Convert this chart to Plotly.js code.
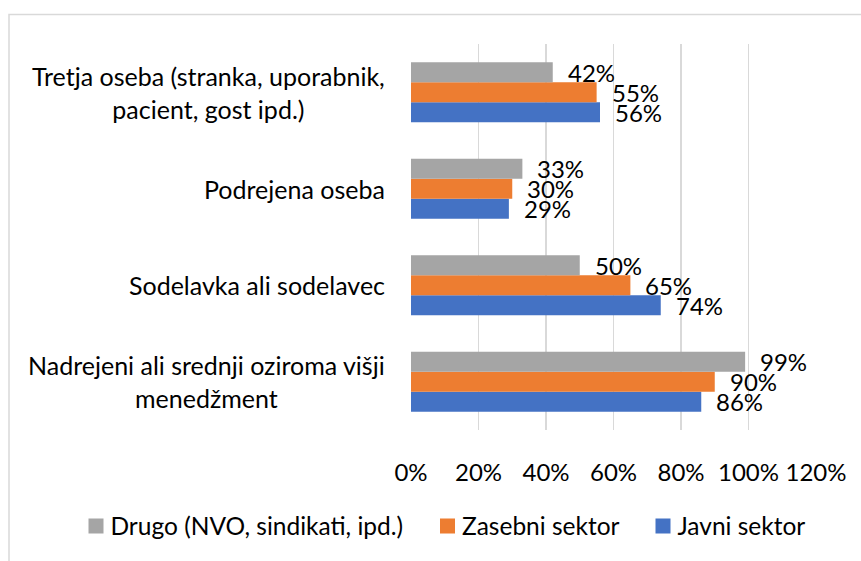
<!DOCTYPE html>
<html>
<head>
<meta charset="utf-8">
<script src="https://cdn.plot.ly/plotly-3.0.1.min.js"></script>
<style>
  html, body { margin: 0; padding: 0; background: #ffffff; }
  #chart { width: 861px; height: 561px; }
</style>
</head>
<body>
<div id="chart"></div>
<script>
// Categories, bottom to top as they appear on the chart
const categories = [
  "Nadrejeni ali srednji oziroma višji<br>menedžment",
  "Sodelavka ali sodelavec",
  "Podrejena oseba",
  "Tretja oseba (stranka, uporabnik,<br>pacient, gost ipd.)"
];
const seriesNames = ["Javni sektor", "Zasebni sektor", "Drugo (NVO, sindikati, ipd.)"];
const javni   = [86, 74, 29, 56];
const zasebni = [90, 65, 30, 55];
const drugo   = [99, 50, 33, 42];
const xTicks = [0, 20, 40, 60, 80, 100, 120];

const colors = ["#4472C4", "#ED7D31", "#A5A5A5"];
const seriesValues = [javni, zasebni, drugo];

const FONT = "Lato, 'Open Sans', sans-serif";
const FS = 24;
const TXT = "#000000";

const W = 861, H = 561;
const margin = { l: 411, r: 45, t: 44, b: 123 };
const plotW = W - margin.l - margin.r;
const plotH = H - margin.t - margin.b;
const px2x = p => (p - margin.l) / plotW;
const py2y = p => 1 - (p - margin.t) / plotH;

const bargap = 0.38;
const nS = seriesNames.length;
const barW = (1 - bargap) / nS;

// one legend per series so the entries can be spaced like the reference
const legendIds = ["legend3", "legend2", "legend"];
const legendLeft = [637.5, 422, 70.5];

const traces = seriesNames.map((name, i) => ({
  type: "bar",
  orientation: "h",
  name: name,
  x: seriesValues[i],
  y: categories,
  legend: legendIds[i],
  marker: { color: colors[i], line: { width: 0 } },
  hoverinfo: "skip"
}));

const annotations = [];
// Data labels
seriesValues.forEach((vals, i) => {
  const off = -(1 - bargap) / 2 + (i + 0.5) * barW;
  vals.forEach((v, c) => {
    annotations.push({
      x: v, y: c + off, xref: "x", yref: "y",
      text: v + "%", showarrow: false,
      xanchor: "left", yanchor: "middle", xshift: 13,
      font: { family: FONT, size: FS, color: TXT }
    });
  });
});
// Category labels (centered multi-line)
categories.forEach((cat, c) => {
  annotations.push({
    x: 0, y: c, xref: "paper", yref: "y",
    text: cat, showarrow: false,
    xanchor: "right", yanchor: "middle", align: "center", xshift: -24,
    font: { family: FONT, size: 25, color: TXT }
  });
});

const legendBase = (left) => ({
  orientation: "h",
  x: px2x(left), xanchor: "left",
  y: py2y(536), yanchor: "middle",
  font: { family: FONT, size: 24.5, color: TXT },
  itemwidth: 30,
  bgcolor: "rgba(0,0,0,0)"
});

const layout = {
  width: W, height: H,
  margin: margin,
  paper_bgcolor: "#ffffff",
  plot_bgcolor: "#ffffff",
  barmode: "group",
  bargap: bargap,
  bargroupgap: 0,
  font: { family: FONT, size: FS, color: TXT },
  showlegend: true,
  legend: legendBase(legendLeft[2]),
  legend2: legendBase(legendLeft[1]),
  legend3: legendBase(legendLeft[0]),
  xaxis: {
    range: [0, 120],
    tickvals: xTicks,
    ticktext: xTicks.map(t => t + "%"),
    showgrid: true,
    gridcolor: "#D9D9D9",
    gridwidth: 1.5,
    zeroline: false,
    showline: false,
    ticks: "",
    ticklabelstandoff: 26,
    tickfont: { family: FONT, size: FS, color: TXT },
    fixedrange: true
  },
  yaxis: {
    type: "category",
    categoryorder: "array",
    categoryarray: categories,
    range: [-0.5, categories.length - 0.5],
    showticklabels: false,
    showgrid: false,
    zeroline: false,
    showline: false,
    ticks: "",
    fixedrange: true
  },
  annotations: annotations,
  shapes: [{
    type: "rect", xref: "paper", yref: "paper", layer: "below",
    x0: px2x(9), x1: px2x(900), y0: py2y(14), y1: py2y(600),
    line: { color: "#D9D9D9", width: 1.5 }, fillcolor: "rgba(0,0,0,0)"
  }]
};

Plotly.newPlot("chart", traces, layout, { displayModeBar: false, staticPlot: true }).then(gd => {
  // square legend swatches, sized and placed like the reference
  gd.querySelectorAll(".legendpoints path").forEach(p => {
    p.setAttribute("d", "M13,7.5H-2V-7.5H13Z");
  });
});
</script>
</body>
</html>
